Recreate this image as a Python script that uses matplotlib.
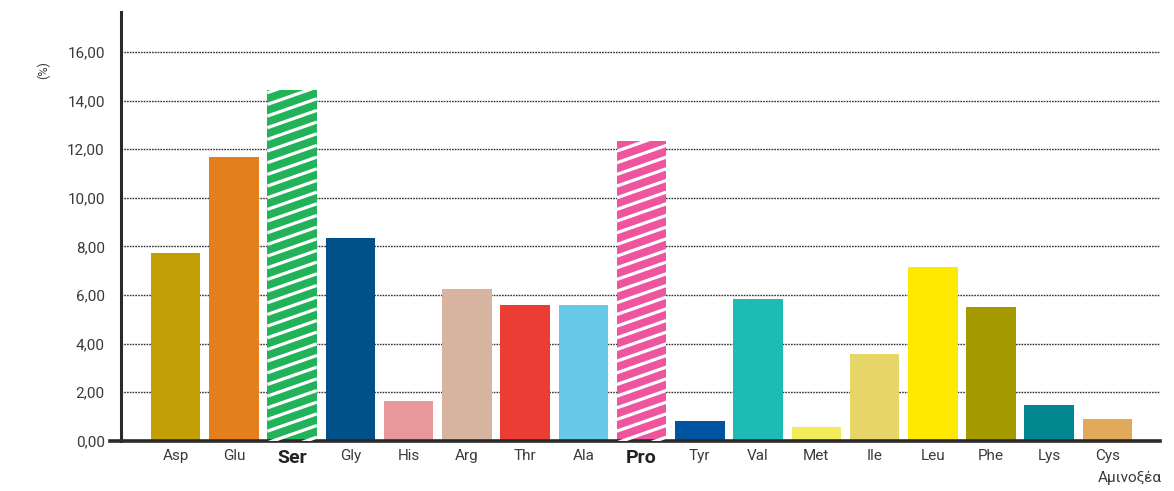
import numpy as np
import matplotlib
matplotlib.use('Agg')
import matplotlib.pyplot as plt
from matplotlib.lines import Line2D

amino = ['Asp', 'Glu', 'Ser', 'Gly', 'His', 'Arg', 'Thr', 'Ala', 'Pro',
         'Tyr', 'Val', 'Met', 'Ile', 'Leu', 'Phe', 'Lys', 'Cys']
valores = [7.74, 11.69, 14.44, 8.35, 1.65, 6.26, 5.60, 5.60, 12.35,
           0.82, 5.84, 0.58, 3.58, 7.16, 5.51, 1.48, 0.91]
cores = ['#c29f05', '#e37f1d', '#22b35a', '#00508a', '#e8989a', '#d6b4a0',
         '#eb3d33', '#68c8e8', '#ee559e', '#0054a0', '#1ebbb5', '#f2eb5a',
         '#e6d66a', '#ffe900', '#a59a00', '#00878f', '#e3a95a']
destaque = ['Ser', 'Pro']
yticks = [0, 2, 4, 6, 8, 10, 12, 14, 16]

plt.rcParams['font.family'] = ['Roboto', 'DejaVu Sans']
texto = '#3a3a3a'

fig = plt.figure(figsize=(11.74, 4.91), dpi=100)
ax = fig.add_axes([0.094, 0.102, 0.894, 0.874])

x = np.arange(len(amino))
xmin, xmax = -1.12, 16.9
x_eixo = -0.93
ax.set_xlim(xmin, xmax)
ax.set_ylim(0, 17.65)

# linhas de grade
for t in yticks[1:]:
    ax.hlines(t, x_eixo, xmax, colors='#333333', linestyles=(0, (1.2, 0.8)),
              linewidth=1.0, zorder=1)

barras = ax.bar(x, valores, width=0.85, color=cores, zorder=2)

# listras brancas nas barras em destaque
for nome, b in zip(amino, barras):
    if nome not in destaque:
        continue
    x0 = b.get_x()
    w = b.get_width()
    h = b.get_height()
    for c in np.arange(-2, h + 2, 0.48):
        ln = Line2D([x0, x0 + w], [c, c + 0.84 * w], color='white',
                    linewidth=2.3, zorder=3, solid_capstyle='butt')
        ax.add_line(ln)
        ln.set_clip_path(b)

for s in ['top', 'right']:
    ax.spines[s].set_visible(False)
ax.spines['left'].set_position(('data', x_eixo))
ax.spines['left'].set_linewidth(2.2)
ax.spines['left'].set_color('#2a2a2a')
ax.spines['bottom'].set_linewidth(2.6)
ax.spines['bottom'].set_color('#2a2a2a')

ax.set_yticks(yticks)
ax.set_yticklabels([f'{t:.2f}'.replace('.', ',') for t in yticks])
ax.tick_params(axis='y', length=0, pad=12, labelsize=11, labelcolor=texto)

ax.set_xticks(x)
ax.set_xticklabels(amino)
ax.tick_params(axis='x', length=0, pad=6, labelsize=11, labelcolor=texto)
for lbl in ax.get_xticklabels():
    if lbl.get_text() in destaque:
        lbl.set_fontweight('bold')
        lbl.set_fontsize(14)
        lbl.set_color('#222222')

fig.text(0.037, 0.857, '(%)', rotation=90, ha='center', va='center',
         fontsize=9, color=texto)
fig.text(0.962, 0.027, 'Αμινοξέα', ha='center', va='center',
         fontsize=11, color=texto)

fig.savefig('out.png', dpi=100)
